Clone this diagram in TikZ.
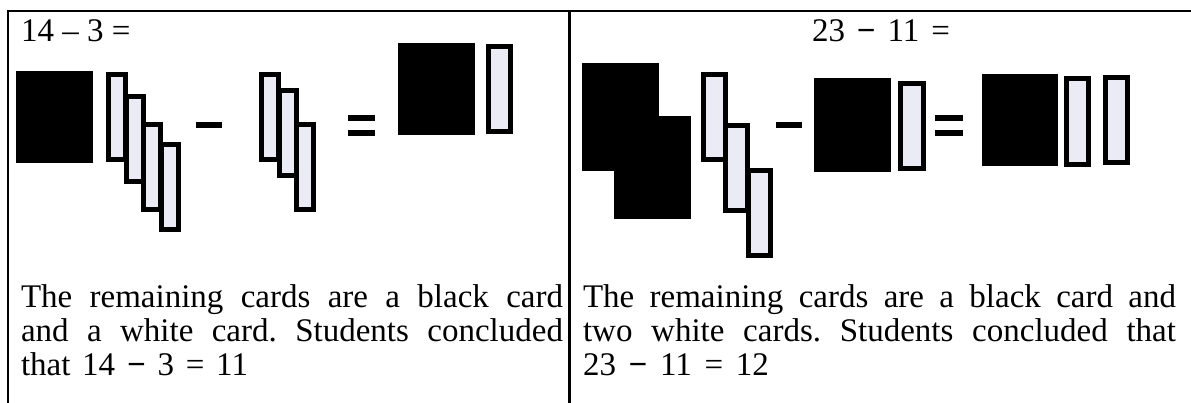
\documentclass[tikz,border=0pt]{standalone}
\usepackage{fontspec}
\setmainfont{Liberation Serif}
\definecolor{cardfill}{RGB}{235,235,246}
\tikzset{
  blackcard/.style 2 args={fill=black, draw=none, inner sep=0pt, outer sep=0pt,
    minimum width=#1, minimum height=#2},
  whitecard/.style 2 args={draw=black, line width=5pt, fill=cardfill, inner sep=0pt,
    outer sep=0pt, minimum width=#1-5, minimum height=#2-5},
  bar/.style={fill=black, draw=none, inner sep=0pt, outer sep=0pt,
    minimum width=27, minimum height=6},
  frame/.style={line width=2.6pt, line cap=rect},
  txt/.style={inner sep=0pt, outer sep=0pt, font=\fontsize{33}{36}\selectfont},
}
\newcommand{\opminus}{{\bfseries −}}
\begin{document}
\begin{tikzpicture}[x=1pt, y=-1pt]
\useasboundingbox (0,0) rectangle (1191,403);

% table rules
\draw[frame] (8,403) -- (8,11) -- (1191,11);
\draw[frame] (569.5,11) -- (569.5,403);

% ---------- left column: 14 - 3 ----------
\node[txt, anchor=base west] (qL) at (21,42) {14 – 3 =};

\node[blackcard={77}{92}] (lb1) at (54.5,117) {};
\node[whitecard={22}{90}] (lw1) at (117,117) {};
\node[whitecard={22}{90}] (lw2) at (134.5,139.5) {};
\node[whitecard={22}{90}] (lw3) at (152,167.5) {};
\node[whitecard={22}{90}] (lw4) at (170,187) {};

\node[bar, minimum width=26] (lminus) at (209,125) {};

\node[whitecard={22}{90}] (ls1) at (269.5,117) {};
\node[whitecard={22}{90}] (ls2) at (287.5,133.5) {};
\node[whitecard={22}{90}] (ls3) at (305,167.5) {};

\node[bar] (leqa) at (361.5,118) {};
\node[bar] (leqb) at (361.5,133) {};

\node[blackcard={77}{92}] (lrb) at (436.5,89) {};
\node[whitecard={27}{90}] (lrw) at (499.5,89) {};

\node[txt, anchor=base west] (lt1) at (21,307)
  {\makebox[542pt][s]{The remaining cards are a black card}};
\node[txt, anchor=base west] (lt2) at (21,341)
  {\makebox[542pt][s]{and a white card.\ Students concluded}};
\node[txt, anchor=base west] (lt3) at (21,375)
  {\makebox[227pt][s]{that 14 \opminus{} 3 = 11}};

% ---------- right column: 23 - 11 ----------
\node[txt, anchor=base] (qR) at (881,42) {\makebox[138pt][s]{23 \opminus{} 11 =}};

\node[blackcard={77}{108}] (rb1) at (620.5,117) {};
\node[blackcard={77}{103}] (rb2) at (652.5,167.5) {};
\node[whitecard={27}{90}] (rw1) at (714.5,117) {};
\node[whitecard={27}{90}] (rw2) at (736.5,168) {};
\node[whitecard={27}{90}] (rw3) at (759.5,213) {};

\node[bar, minimum width=26] (rminus) at (789,125) {};

\node[blackcard={77}{94}] (rsb) at (852.5,125) {};
\node[whitecard={28}{90}] (rsw) at (912,126) {};

\node[bar, minimum width=28] (reqa) at (949,118.5) {};
\node[bar, minimum width=28] (reqb) at (949,133) {};

\node[blackcard={76}{92}] (rrb) at (1020,120) {};
\node[whitecard={27}{91}] (rrw1) at (1077.5,121.5) {};
\node[whitecard={27}{90}] (rrw2) at (1116.5,120) {};

\node[txt, anchor=base west] (rt1) at (583,307)
  {\makebox[593pt][s]{The remaining cards are a black card and}};
\node[txt, anchor=base west] (rt2) at (583,341)
  {\makebox[593pt][s]{two white cards.\ Students concluded that}};
\node[txt, anchor=base west] (rt3) at (583,375)
  {\makebox[186pt][s]{23 \opminus{} 11 = 12}};
\end{tikzpicture}
\end{document}
